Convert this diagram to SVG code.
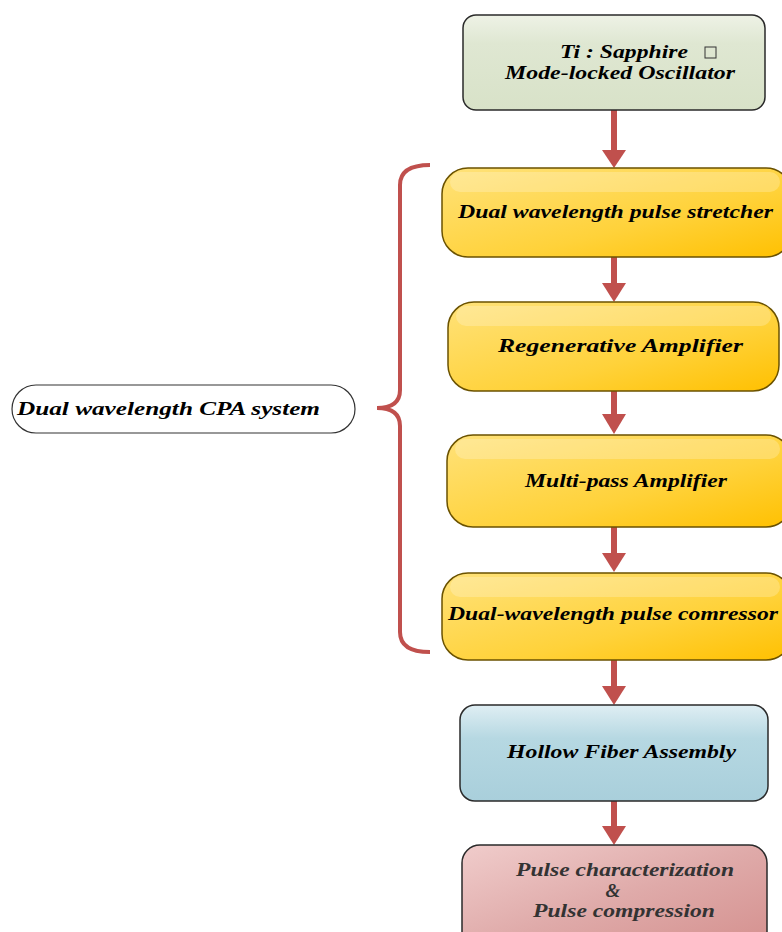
<svg xmlns="http://www.w3.org/2000/svg" width="782" height="932" viewBox="0 0 782 932">
<style>
.t{font-family:"Liberation Serif","Times New Roman",serif;font-weight:bold;font-style:italic;font-size:19px;fill:#000;}
.box{stroke:#2a2a2a;stroke-width:1.5;}
.ybox{stroke:#6b5200;stroke-width:1.5;}
.conn{stroke:#c0504d;stroke-width:6;fill:none;}
.head{fill:#c0504d;}
.hl{fill:#fff;opacity:0.22;}
</style>
<defs>
<linearGradient id="gy" x1="0" y1="0" x2="1" y2="1">
<stop offset="0" stop-color="#ffe27a"/><stop offset="0.6" stop-color="#ffd23a"/><stop offset="1" stop-color="#ffc000"/>
</linearGradient>
<linearGradient id="gg" x1="0" y1="0" x2="0" y2="1">
<stop offset="0" stop-color="#eef2e6"/><stop offset="0.3" stop-color="#dfe7d2"/><stop offset="1" stop-color="#d8e2c8"/>
</linearGradient>
<linearGradient id="gb" x1="0" y1="0" x2="0" y2="1">
<stop offset="0" stop-color="#dfeef3"/><stop offset="0.35" stop-color="#b6d8e2"/><stop offset="1" stop-color="#a9cfdb"/>
</linearGradient>
<linearGradient id="gp" x1="0" y1="0" x2="1" y2="1">
<stop offset="0" stop-color="#f0cccb"/><stop offset="0.5" stop-color="#dfaaa9"/><stop offset="1" stop-color="#d48f8d"/>
</linearGradient>
</defs>

<g id="connectors">
<line class="conn" x1="614" y1="110" x2="614" y2="152"/>
<polygon class="head" points="602,150 626,150 614,168"/>
<line class="conn" x1="614" y1="257" x2="614" y2="285"/>
<polygon class="head" points="602,283 626,283 614,302"/>
<line class="conn" x1="614" y1="391" x2="614" y2="416"/>
<polygon class="head" points="602,414 626,414 614,434"/>
<line class="conn" x1="614" y1="527" x2="614" y2="555"/>
<polygon class="head" points="602,553 626,553 614,572"/>
<line class="conn" x1="614" y1="660" x2="614" y2="688"/>
<polygon class="head" points="602,686 626,686 614,705"/>
<line class="conn" x1="614" y1="801" x2="614" y2="828"/>
<polygon class="head" points="602,826 626,826 614,845"/>
<path id="brace" d="M430,165 Q400,165 400,185 L400,390 Q400,408 377,408 Q400,408 400,426 L400,632 Q400,652 430,652" fill="none" stroke="#c0504d" stroke-width="4"/>
</g>

<g id="oscillator">
<rect class="box" x="463" y="15" width="302" height="95" rx="13" fill="url(#gg)"/>
<text class="t" x="560" y="58" textLength="128" lengthAdjust="spacingAndGlyphs">Ti : Sapphire</text>
<rect x="705" y="47" width="11" height="11" fill="none" stroke="#333" stroke-width="1"/>
<text class="t" x="505" y="79" textLength="230" lengthAdjust="spacingAndGlyphs">Mode-locked Oscillator</text>
</g>

<g id="stretcher">
<rect class="ybox" x="442" y="168" width="350" height="89" rx="26" fill="url(#gy)"/>
<rect class="hl" x="450" y="172" width="330" height="20" rx="10"/>
<text class="t" x="458" y="218" textLength="315" lengthAdjust="spacingAndGlyphs">Dual wavelength pulse stretcher</text>
</g>

<g id="regen">
<rect class="ybox" x="448" y="302" width="331" height="89" rx="26" fill="url(#gy)"/>
<rect class="hl" x="456" y="306" width="315" height="20" rx="10"/>
<text class="t" x="498" y="352" textLength="245" lengthAdjust="spacingAndGlyphs">Regenerative Amplifier</text>
</g>

<g id="multipass">
<rect class="ybox" x="447" y="435" width="345" height="92" rx="26" fill="url(#gy)"/>
<rect class="hl" x="455" y="439" width="325" height="20" rx="10"/>
<text class="t" x="525" y="487" textLength="202" lengthAdjust="spacingAndGlyphs">Multi-pass Amplifier</text>
</g>

<g id="compressor">
<rect class="ybox" x="442" y="573" width="350" height="87" rx="26" fill="url(#gy)"/>
<rect class="hl" x="450" y="577" width="330" height="20" rx="10"/>
<text class="t" x="448" y="620" textLength="330" lengthAdjust="spacingAndGlyphs">Dual-wavelength pulse comressor</text>
</g>

<g id="hollow">
<rect class="box" x="460" y="705" width="308" height="96" rx="15" fill="url(#gb)"/>
<text class="t" x="507" y="758" textLength="229" lengthAdjust="spacingAndGlyphs">Hollow Fiber Assembly</text>
</g>

<g id="pulse">
<rect class="box" x="462" y="845" width="305" height="110" rx="18" fill="url(#gp)" stroke="#8a4a48"/>
<text class="t" x="516" y="876" textLength="218" lengthAdjust="spacingAndGlyphs" style="fill:#333">Pulse characterization</text>
<text class="t" x="613" y="897" text-anchor="middle" style="fill:#333">&amp;</text>
<text class="t" x="533" y="917" textLength="182" lengthAdjust="spacingAndGlyphs" style="fill:#333">Pulse compression</text>
</g>

<g id="cpa">
<rect x="12" y="385" width="343" height="48" rx="24" fill="#fff" stroke="#333" stroke-width="1.2"/>
<text class="t" x="17" y="415" textLength="303" lengthAdjust="spacingAndGlyphs">Dual wavelength CPA system</text>
</g>
</svg>
